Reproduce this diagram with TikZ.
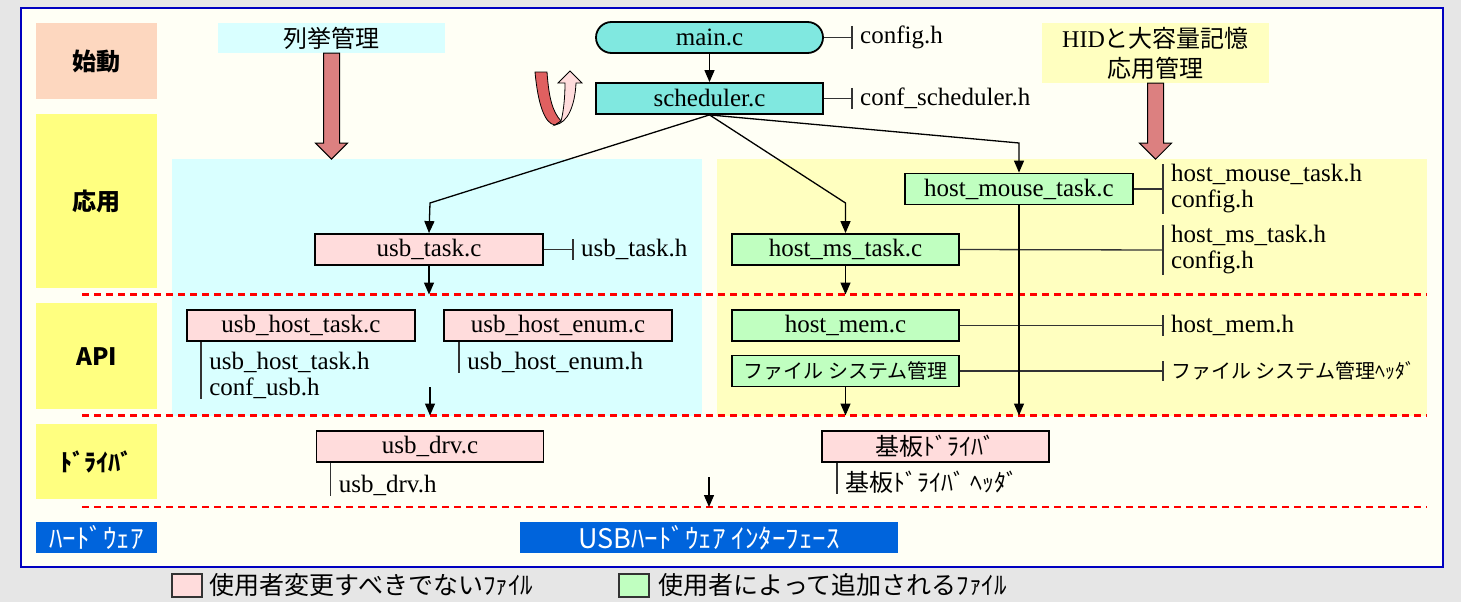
\documentclass[tikz,border=0pt]{standalone}
\usepackage{fontspec}
\setmainfont{Liberation Serif}
\newfontfamily\jp{Noto Sans CJK JP}
\usetikzlibrary{arrows.meta,positioning,calc}

\definecolor{outerbg}{HTML}{E6E6E6}
\definecolor{panelbg}{HTML}{FFFFF5}
\definecolor{framec}{HTML}{0000C0}
\definecolor{peach}{HTML}{FDD7BF}
\definecolor{lanec}{HTML}{FFFF80}
\definecolor{enumc}{HTML}{D9FFFF}
\definecolor{appc}{HTML}{FFFFC0}
\definecolor{corec}{HTML}{80E8E0}
\definecolor{fixedc}{HTML}{FFDCDC}
\definecolor{addedc}{HTML}{C0FFC0}
\definecolor{bigred}{HTML}{DC8080}
\definecolor{loopred}{HTML}{E06060}
\definecolor{hwblue}{HTML}{0064DC}

\newcommand{\srcsize}{\fontsize{25}{26}\selectfont}
\newcommand{\jpsize}{\fontsize{24}{30}\selectfont}

% header file hung on the right of a source box
\newcommand{\tieto}[2]{
  \draw[tie] (#1.east) -- (#2.west);
  \draw[tie] (#2.north west) -- (#2.south west);
}
% header file hung below a source box
\newcommand{\tiedown}[2]{
  \draw[tie] (#1.south -| #2.west) -- (#2.south west);
}
% fat red arrow below a heading
\newcommand{\bigdown}[2]{
  \draw[fill=bigred, line width=1pt] (#1.south) ++(-8,0) -- ++(0,#2) -- ++(-8,0)
    -- ++(16,16) -- ++(16,-16) -- ++(-8,0) -- ++(0,-#2) -- cycle;
}

\begin{document}
\begin{tikzpicture}[x=1pt,y=-1pt]

% --- STYLES ---
\tikzset{
  lane/.style={anchor=north west, minimum width=121pt, inner sep=0pt,
               font=\jp\bfseries\fontsize{24}{28}\selectfont},
  region/.style={anchor=north west, inner sep=0pt},
  heading/.style={inner sep=0pt, align=center, font=\jpsize},
  src/.style={draw=black, line width=1.8pt, minimum width=227pt,
              minimum height=31pt, inner sep=0pt, font=\srcsize},
  core/.style={src, fill=corec},
  fixed/.style={src, fill=fixedc},
  added/.style={src, fill=addedc},
  hfile/.style={anchor=west, align=left, inner xsep=8pt, inner ysep=0pt, font=\srcsize},
  tie/.style={black!80, line width=1.3pt},
  flow/.style={black, line width=1.3pt, -{Triangle[length=12pt,width=10pt]}},
  layer/.style={red, line width=2.5pt, dash pattern=on 7pt off 5pt},
  hwbox/.style={anchor=north west, fill=hwblue, text=white, minimum height=31pt,
                inner sep=0pt, font=\jp\fontsize{27}{28}\selectfont},
  keybox/.style={draw=black!80, line width=1.5pt, minimum width=30pt, minimum height=23pt},
  keytext/.style={inner sep=0pt, font=\jp\fontsize{25}{28}\selectfont},
}

\useasboundingbox (0,0) rectangle (1461,602);
\fill[outerbg] (0,0) rectangle (1461,602);
\draw[framec, line width=2pt, fill=panelbg] (21,8) rectangle (1443,567);

% ================= LANES =================
\node[lane, fill=peach, minimum height=76pt] (boot) at (36,23) {始動};
\node[lane, fill=lanec, minimum height=174pt] (appl) at (36,114) {応用};
\node[lane, fill=lanec, minimum height=106pt] (api) at (36,303) {API};
\node[lane, fill=lanec, minimum height=75pt] (drv) at (36,424) {ﾄﾞﾗｲﾊﾞ};
\node[hwbox, minimum width=121pt] (hw) at (36,522) {ﾊｰﾄﾞｳｪｱ};
\node[hwbox, minimum width=378pt] (usbhw) at (520,522) {USBﾊｰﾄﾞｳｪｱ ｲﾝﾀｰﾌｪｰｽ};

% ================= REGIONS =================
\node[region, fill=enumc, minimum width=530pt, minimum height=257pt] (enumreg) at (172,159) {};
\node[region, fill=appc, minimum width=710pt, minimum height=257pt] (appreg) at (717,159) {};

\node[heading, fill=enumc, minimum width=227pt, minimum height=30pt] (enumhd) at (331.5,38) {\jp 列挙管理};
\node[heading, fill=appc, minimum width=227pt, minimum height=60pt] (apphd) at (1155.5,53)
  {HID{\jp と大容量記憶}\\{\jp 応用管理}};
\bigdown{enumhd}{90}
\bigdown{apphd}{60}

% ================= LAYER BORDERS =================
\coordinate (l1) at (0,294.5);
\coordinate (l2) at (0,415.5);
\coordinate (l3) at (0,507);
\draw[layer] (82,294.5) -- (1427,294.5);
\draw[layer] (82,415.5) -- (1427,415.5);
\draw[layer] (82,507) -- (1427,507);

% ================= SOURCE FILES =================
\node[core, rounded corners=15.5pt] (main) at (709.5,37.5) {main.c};
\node[core] (sched) at (709.5,98.5) {scheduler.c};

\node[fixed, minimum width=228pt] (utask) at (429,249.5) {usb\_task.c};
\node[added] (mstask) at (845.5,249.5) {host\_ms\_task.c};
\node[added, minimum width=228pt] (mouse) at (1019,189) {host\_mouse\_task.c};

\node[fixed, minimum width=228pt] (uht) at (301,325.5) {usb\_host\_task.c};
\node[fixed, minimum width=228pt] (uhe) at (558,325.5) {usb\_host\_enum.c};
\node[added] (hmem) at (845.5,325.5) {host\_mem.c};
\node[added, font=\jp\fontsize{20}{22}\selectfont] (fsys) at (845.5,371) {ファイル システム管理};

\node[fixed] (udrv) at (430,446.5) {usb\_drv.c};
\node[fixed, font=\jp\jpsize] (bdrv) at (935.5,446.5) {基板ﾄﾞﾗｲﾊﾞ};

% ================= HEADER FILES =================
\node[hfile] (cfgh) at (852,37.5) {config.h};
\node[hfile] (confsh) at (852,98.5) {conf\_scheduler.h};
\node[hfile] (utaskh) at (573,249.5) {usb\_task.h};
\node[hfile] (mouseh) at (1163,189) {host\_mouse\_task.h\\config.h};
\node[hfile] (mstaskh) at (1163,250) {host\_ms\_task.h\\config.h};
\node[hfile] (hmemh) at (1163,325.5) {host\_mem.h};
\node[hfile, font=\jp\fontsize{20}{22}\selectfont] (fsysh) at (1163,371) {ファイル システム管理ﾍｯﾀﾞ};

\node[hfile, anchor=north west] (uhth) at ([shift={(15,10)}]uht.south west) {usb\_host\_task.h\\conf\_usb.h};
\node[hfile, anchor=north west] (uheh) at ([shift={(16,10)}]uhe.south west) {usb\_host\_enum.h};
\node[hfile, anchor=north west] (udrvh) at ([shift={(15,12)}]udrv.south west) {usb\_drv.h};
\node[hfile, anchor=north west, font=\jp\jpsize] (bdrvh) at ([shift={(16,8)}]bdrv.south west) {基板ﾄﾞﾗｲﾊﾞ ﾍｯﾀﾞ};

\tieto{main}{cfgh}
\tieto{sched}{confsh}
\tieto{utask}{utaskh}
\tieto{mouse}{mouseh}
\tieto{mstask}{mstaskh}
\tieto{hmem}{hmemh}
\tieto{fsys}{fsysh}
\tiedown{uht}{uhth}
\tiedown{uhe}{uheh}
\tiedown{udrv}{udrvh}
\tiedown{bdrv}{bdrvh}

% ================= CALL FLOW =================
\coordinate (bendL) at (430,203);
\coordinate (bendM) at (845.5,203);
\coordinate (bendR) at (1019,143);
\coordinate (apiout) at (430,387);
\coordinate (drvout) at (709,477);

\draw[flow] (main.south) -- (sched.north);
\draw[flow] (sched.south) -- (bendL) -- (utask.north);
\draw[flow] (sched.south) -- (bendM) -- (mstask.north);
\draw[flow] (sched.south) -- (bendR) -- (mouse.north);
\draw[flow] (utask.south) -- (utask.south |- l1);
\draw[flow] (mstask.south) -- (mstask.south |- l1);
\draw[flow] (mouse.south) -- (mouse.south |- l2);
\draw[flow] (fsys.south) -- (fsys.south |- l2);
\draw[flow] (apiout) -- (apiout |- l2);
\draw[flow] (drvout) -- (drvout |- l3);

% --- loop mark beside the scheduler ---
\draw[fill=loopred, line width=0.8pt] (535,72) .. controls (538,105) and (545,124) .. (555,125)
  -- (561,121) .. controls (553,112) and (549,100) .. (547,72) -- cycle;
\draw[fill=fixedc, line width=0.8pt] (555,125) .. controls (568,123) and (575,105) .. (576,83)
  -- (582,83) -- (570,71) -- (558,83) -- (565,83) .. controls (565,100) and (563,114) .. (561,121) -- cycle;

% ================= KEY =================
\node[keybox, fill=fixedc] (keyfixed) at (187,585.5) {};
\node[keytext, right=7pt of keyfixed] (keyfixedt) {使用者変更すべきでないﾌｧｲﾙ};
\node[keybox, fill=addedc] (keyadded) at (634,585.5) {};
\node[keytext, right=9pt of keyadded] (keyaddedt) {使用者によって追加されるﾌｧｲﾙ};

\end{tikzpicture}
\end{document}
